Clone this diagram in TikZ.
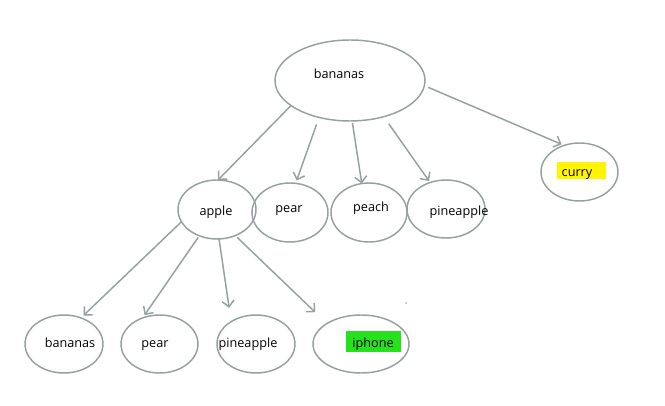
\documentclass[tikz,border=0pt]{standalone}
\usepackage{fontspec}
\setmainfont{Open Sans}
\usetikzlibrary{shapes.geometric,arrows.meta}
\definecolor{linegray}{RGB}{150,160,160}
\definecolor{hlyellow}{RGB}{255,245,0}
\definecolor{hlgreen}{RGB}{40,225,30}
\tikzset{
  ell/.style 2 args={ellipse, draw=linegray, line width=1.1pt,
    minimum width=#1*0.75pt, minimum height=#2*0.75pt, inner sep=0pt, outer sep=0pt},
  txt/.style={anchor=base, inner sep=0pt, font=\fontsize{9.5}{11}\selectfont, text=black},
  hl/.style 2 args={rectangle, inner sep=0pt, outer sep=0pt,
    minimum width=#1*0.75pt, minimum height=#2*0.75pt},
  arr/.style={draw=linegray, line width=1.1pt, -{Straight Barb[length=4.5pt,width=9pt]}}
}
\begin{document}
\begin{tikzpicture}[x=0.75pt,y=-0.75pt]
\useasboundingbox (0,0) rectangle (665,406);
% ellipses
\node[ell={150}{81}] (bananas) at (350,80.5) {};
\node[ell={77}{58}] (curry) at (579.5,172) {};
\node[ell={78}{59}] (apple) at (217,209.5) {};
\node[ell={76}{59}] (pear) at (290,212.5) {};
\node[ell={76}{59}] (peach) at (369,212.5) {};
\node[ell={78}{58}] (pineapple) at (446,209) {};
\node[ell={78}{58}] (bananasB) at (64,344) {};
\node[ell={77}{58}] (pearB) at (159.5,344) {};
\node[ell={78}{58}] (pineappleB) at (256,344) {};
\node[ell={96}{58}] (iphone) at (361,344) {};
% highlights
\node[hl={49}{17}, fill=hlyellow] (hlcurry) at (581.5,170.5) {};
\node[hl={55}{21}, fill=hlgreen] (hliphone) at (373.5,341.5) {};
% texts
\node[txt] (t-bananas) at (339,79) {bananas};
\node[txt] (t-curry) at (577,177) {curry};
\node[txt] (t-apple) at (216,216) {apple};
\node[txt] (t-pear) at (289,213) {pear};
\node[txt] (t-peach) at (371,212) {peach};
\node[txt] (t-pineapple) at (459,216) {pineapple};
\node[txt] (t-bananasB) at (70,348) {bananas};
\node[txt] (t-pearB) at (155,348) {pear};
\node[txt] (t-pineappleB) at (248,348) {pineapple};
\node[txt] (t-iphone) at (373,348) {iphone};
% arrows from top bananas
\draw[arr] (bananas.203) -- (apple.88);
\draw[arr, shorten <=7.5*0.75pt, shorten >=3*0.75pt] (bananas.230) -- (pear.79);
\draw[arr, shorten <=2*0.75pt] (bananas.273) -- (peach.104);
\draw[arr, shorten <=8.8*0.75pt, shorten >=1.9*0.75pt] (bananas.313) -- (pineapple.121);
\draw[arr, shorten <=4.2*0.75pt, shorten >=2.8*0.75pt] (bananas.356) -- (curry.120);
% arrows from apple
\draw[arr, shorten >=3.5*0.75pt] (apple.199) -- (bananasB.57);
\draw[arr, shorten <=2*0.75pt, shorten >=3.5*0.75pt] (apple.236) -- (pearB.123);
\draw[arr, shorten >=14*0.75pt] (apple.274) -- (pineappleB.138);
\draw[arr, shorten <=2.5*0.75pt, shorten >=16.4*0.75pt] (apple.305) -- (iphone.149);
% stray dot
\fill[linegray] (406,303) circle (0.8);
\end{tikzpicture}
\end{document}
